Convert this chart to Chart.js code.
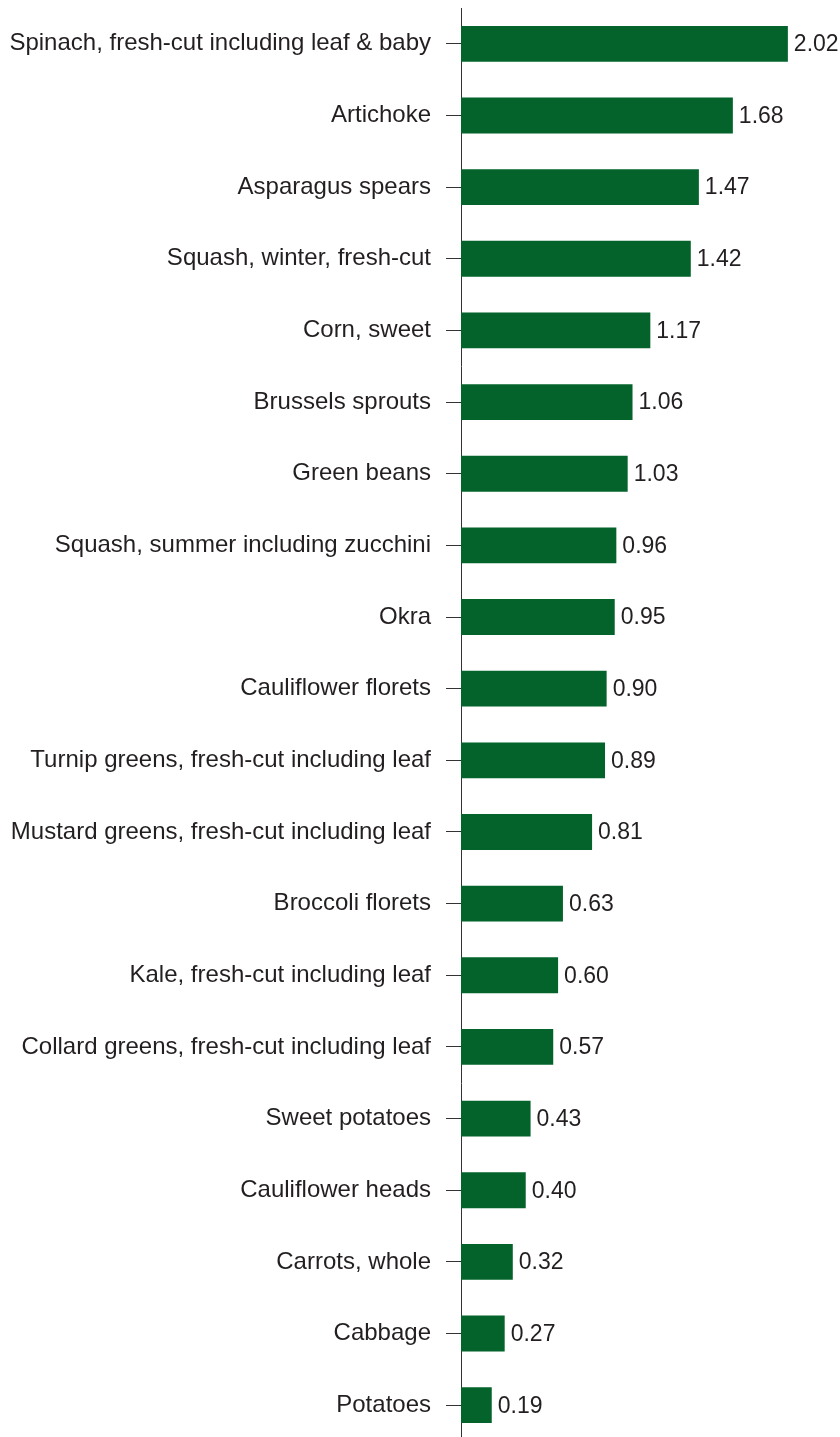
<!DOCTYPE html>
<html>
<head>
<meta charset="utf-8">
<script src="https://cdn.jsdelivr.net/npm/chart.js@4"></script>
<style>
  html, body { margin: 0; padding: 0; background: #fff; overflow: hidden; }
  #wrap { width: 840px; height: 1445px; position: relative; }
</style>
</head>
<body>
<div id="wrap"><canvas id="chart"></canvas></div>
<script>
var categories = [
  "Spinach, fresh-cut including leaf & baby",
  "Artichoke",
  "Asparagus spears",
  "Squash, winter, fresh-cut",
  "Corn, sweet",
  "Brussels sprouts",
  "Green beans",
  "Squash, summer including zucchini",
  "Okra",
  "Cauliflower florets",
  "Turnip greens, fresh-cut including leaf",
  "Mustard greens, fresh-cut including leaf",
  "Broccoli florets",
  "Kale, fresh-cut including leaf",
  "Collard greens, fresh-cut including leaf",
  "Sweet potatoes",
  "Cauliflower heads",
  "Carrots, whole",
  "Cabbage",
  "Potatoes"
];
var values = [2.02, 1.68, 1.47, 1.42, 1.17, 1.06, 1.03, 0.96, 0.95, 0.90,
              0.89, 0.81, 0.63, 0.60, 0.57, 0.43, 0.40, 0.32, 0.27, 0.19];

var textColor = "#231f20";
var font = "Liberation Sans, Arial, Helvetica, sans-serif";

// value labels at the end of each bar
var valueLabels = {
  id: "valueLabels",
  afterDatasetsDraw: function(chart) {
    var ctx = chart.ctx;
    var meta = chart.getDatasetMeta(0);
    ctx.save();
    ctx.font = "23px " + font;
    ctx.fillStyle = textColor;
    ctx.textAlign = "left";
    ctx.textBaseline = "middle";
    meta.data.forEach(function(bar, i) {
      ctx.fillText(values[i].toFixed(2), bar.x + 6, bar.y + 1);
    });
    ctx.restore();
  }
};

new Chart(document.getElementById("chart"), {
  type: "bar",
  data: {
    labels: categories,
    datasets: [{
      data: values,
      backgroundColor: "#03632a",
      barPercentage: 0.5,
      categoryPercentage: 1.0
    }]
  },
  options: {
    indexAxis: "y",
    responsive: true,
    maintainAspectRatio: false,
    animation: false,
    layout: { padding: { top: 8, bottom: 4, left: 0, right: 23 } },
    plugins: { legend: { display: false }, tooltip: { enabled: false } },
    scales: {
      x: { display: false, min: 0, max: 2.2 },
      y: {
        afterFit: function(scale) {
          scale.width = 461;
          scale.paddingTop = 0;
          scale.paddingBottom = 0;
        },
        border: { display: true, color: "#333", width: 1 },
        grid: { offset: false, drawOnChartArea: false, tickLength: 15, color: "#333", lineWidth: 1 },
        ticks: { color: textColor, font: { family: font, size: 24 }, padding: 15, autoSkip: false }
      }
    }
  },
  plugins: [valueLabels]
});
</script>
</body>
</html>
